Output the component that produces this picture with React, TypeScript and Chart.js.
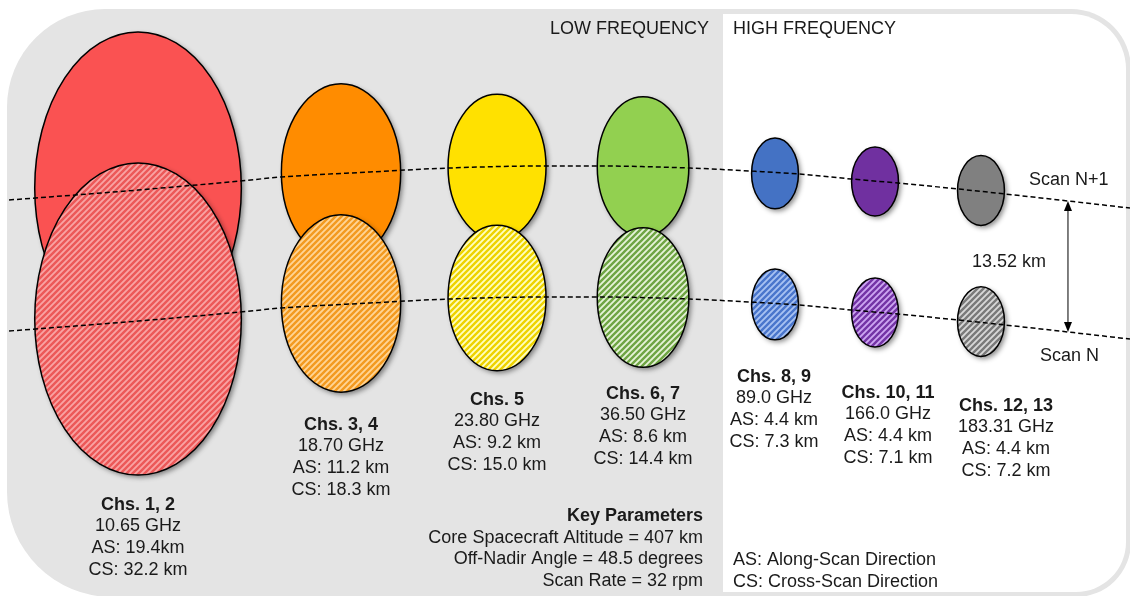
import React, { useEffect, useRef } from 'react';
import { Chart, registerables } from 'chart.js';

Chart.register(...registerables);

// ---------- data ----------
const CHANNELS = ['Chs. 1, 2', 'Chs. 3, 4', 'Chs. 5', 'Chs. 6, 7', 'Chs. 8, 9', 'Chs. 10, 11', 'Chs. 12, 13'];
const FREQS = ['10.65 GHz', '18.70 GHz', '23.80 GHz', '36.50 GHz', '89.0 GHz', '166.0 GHz', '183.31 GHz'];
const AS_KM = [19.4, 11.2, 9.2, 8.6, 4.4, 4.4, 4.4];
const CS_KM = [32.2, 18.3, 15.0, 14.4, 7.3, 7.1, 7.2];
const AS_TEXT = ['AS: 19.4km', 'AS: 11.2 km', 'AS: 9.2 km', 'AS: 8.6 km', 'AS: 4.4 km', 'AS: 4.4 km', 'AS: 4.4 km'];
const CS_TEXT = ['CS: 32.2 km', 'CS: 18.3 km', 'CS: 15.0 km', 'CS: 14.4 km', 'CS: 7.3 km', 'CS: 7.1 km', 'CS: 7.2 km'];

// footprint centres (km, along-scan / cross-scan) for scan N+1
const CENTER_X_KM = [12.96, 32.02, 46.67, 60.38, 72.77, 82.16, 92.11];
const CENTER_Y_KM = [19.4, 17.8, 17.23, 17.18, 17.9, 18.73, 19.66];
const SCAN_SEP_KM = 13.52;

// scan N+1 centre line (km)
const SCAN_X_KM = [0.85, 12.96, 22.54, 26.38, 34.74, 42.16, 51.27, 55.96, 64.79, 70.42, 75.02, 79.91, 84.32, 89.95, 94.37, 100.28, 106.1];
const SCAN_Y_KM = [20.64, 19.61, 18.68, 18.27, 17.75, 17.34, 17.13, 17.13, 17.34, 17.65, 17.96, 18.47, 18.89, 19.5, 20.02, 20.74, 21.47];
const ARROW_X_KM = 100.28;
const ARROW_Y_KM = 20.74;

const KEY_TITLE = 'Key Parameters';
const KEY_LINES = ['Core Spacecraft Altitude = 407 km', 'Off-Nadir Angle = 48.5 degrees', 'Scan Rate = 32 rpm'];
const LEGEND_LINES = ['AS: Along-Scan Direction', 'CS: Cross-Scan Direction'];

// ---------- styles / layout ----------
const SOLID = ['#FA5252', '#FF8C00', '#FFE100', '#92D050', '#4472C4', '#7030A0', '#808080'];
const HATCH_BASE = ['#F9A3A3', '#FFD596', '#FFFFC0', '#E6F3D8', '#A8C2F2', '#CDA6F2', '#D8D8D8'];
const HATCH_STRIPE = ['#EC5858', '#F39A20', '#EED300', '#6FA544', '#4A76CC', '#7434A6', '#7A7A7A'];
const LABEL_X = [138, 341, 497, 643, 774, 888, 1006];
const LABEL_Y = [503, 423, 398, 392, 375, 391, 404];
const LINE_H = 21.8;
const FONT = '"Liberation Sans", Arial, sans-serif';
const TEXT_COLOR = '#1a1a1a';

function makeHatch(ctx: CanvasRenderingContext2D, base: string, stripe: string) {
  const s = 6;
  const c = document.createElement('canvas');
  c.width = s;
  c.height = s;
  const g = c.getContext('2d')!;
  g.fillStyle = base;
  g.fillRect(0, 0, s, s);
  g.strokeStyle = stripe;
  g.lineWidth = 2.4;
  g.beginPath();
  g.moveTo(-1, s + 1);
  g.lineTo(s + 1, -1);
  g.moveTo(-1, 1);
  g.lineTo(1, -1);
  g.moveTo(s - 1, s + 1);
  g.lineTo(s + 1, s - 1);
  g.stroke();
  return ctx.createPattern(c, 'repeat')!;
}

function textAt(ctx: CanvasRenderingContext2D, t: string, x: number, cy: number, align: CanvasTextAlign, bold = false) {
  ctx.font = `${bold ? 'bold ' : ''}18px ${FONT}`;
  ctx.textAlign = align;
  ctx.textBaseline = 'alphabetic';
  ctx.fillStyle = TEXT_COLOR;
  ctx.fillText(t, x, cy + 6.5);
}

const diagramPlugin = {
  id: 'footprintDiagram',
  beforeDraw(chart: any) {
    const ctx: CanvasRenderingContext2D = chart.ctx;
    ctx.save();
    const outer = new Path2D();
    (outer as any).roundRect(7, 9, 1124, 588, [98, 60, 55, 105]);
    ctx.fillStyle = '#E4E4E4';
    ctx.fill(outer);
    const inner = new Path2D();
    (inner as any).roundRect(12, 14, 1114, 578, [93, 55, 50, 100]);
    ctx.clip(inner);
    ctx.fillStyle = '#FFFFFF';
    ctx.fillRect(723, 0, 500, 620);
    ctx.restore();
  },
  beforeDatasetsDraw(chart: any) {
    const ctx: CanvasRenderingContext2D = chart.ctx;
    const xs = chart.scales.x;
    const ys = chart.scales.y;
    const drawSet = (dsIndex: number, hatched: boolean) => {
      const meta = chart.getDatasetMeta(dsIndex);
      meta.data.forEach((pt: any, i: number) => {
        const cx = pt.x;
        const cy = pt.y;
        const rx = Math.abs(xs.getPixelForValue(CENTER_X_KM[i] + AS_KM[i] / 2) - xs.getPixelForValue(CENTER_X_KM[i] - AS_KM[i] / 2)) / 2;
        const ry = Math.abs(ys.getPixelForValue(CS_KM[i] / 2) - ys.getPixelForValue(-CS_KM[i] / 2)) / 2;
        ctx.save();
        ctx.beginPath();
        ctx.ellipse(cx, cy, rx, ry, 0, 0, Math.PI * 2);
        ctx.shadowColor = 'rgba(0,0,0,0.45)';
        ctx.shadowBlur = 5;
        ctx.shadowOffsetX = 2.5;
        ctx.shadowOffsetY = 2.5;
        ctx.fillStyle = hatched ? makeHatch(ctx, HATCH_BASE[i], HATCH_STRIPE[i]) : SOLID[i];
        ctx.fill();
        ctx.shadowColor = 'transparent';
        ctx.lineWidth = 1.5;
        ctx.strokeStyle = '#000';
        ctx.stroke();
        ctx.restore();
      });
    };
    drawSet(2, false);
    drawSet(3, true);
  },
  afterDatasetsDraw(chart: any) {
    const ctx: CanvasRenderingContext2D = chart.ctx;
    const xs = chart.scales.x;
    const ys = chart.scales.y;
    // arrow between scans
    const ax = xs.getPixelForValue(ARROW_X_KM);
    const top = ys.getPixelForValue(ARROW_Y_KM);
    const bot = ys.getPixelForValue(ARROW_Y_KM + SCAN_SEP_KM);
    ctx.save();
    ctx.strokeStyle = '#000';
    ctx.fillStyle = '#000';
    ctx.lineWidth = 1;
    ctx.beginPath();
    ctx.moveTo(ax, top + 8);
    ctx.lineTo(ax, bot - 8);
    ctx.stroke();
    ctx.beginPath();
    ctx.moveTo(ax, top);
    ctx.lineTo(ax - 4, top + 10);
    ctx.lineTo(ax + 4, top + 10);
    ctx.closePath();
    ctx.fill();
    ctx.beginPath();
    ctx.moveTo(ax, bot);
    ctx.lineTo(ax - 4, bot - 10);
    ctx.lineTo(ax + 4, bot - 10);
    ctx.closePath();
    ctx.fill();
    ctx.restore();

    ctx.save();
    textAt(ctx, 'LOW FREQUENCY', 709, 27, 'right');
    textAt(ctx, 'HIGH FREQUENCY', 733, 27, 'left');
    textAt(ctx, 'Scan N+1', 1029, 178, 'left');
    textAt(ctx, '13.52 km', 972, 260, 'left');
    textAt(ctx, 'Scan N', 1040, 354, 'left');
    CHANNELS.forEach((c, i) => {
      const x = LABEL_X[i];
      const y = LABEL_Y[i];
      textAt(ctx, c, x, y, 'center', true);
      textAt(ctx, FREQS[i], x, y + LINE_H, 'center');
      textAt(ctx, AS_TEXT[i], x, y + LINE_H * 2, 'center');
      textAt(ctx, CS_TEXT[i], x, y + LINE_H * 3, 'center');
    });
    textAt(ctx, KEY_TITLE, 703, 514, 'right', true);
    KEY_LINES.forEach((t, i) => textAt(ctx, t, 703, 536 + i * 21.7, 'right'));
    LEGEND_LINES.forEach((t, i) => textAt(ctx, t, 733, 558 + i * 22, 'left'));
    ctx.restore();
  },
};

export default function App() {
  const ref = useRef<HTMLCanvasElement | null>(null);
  useEffect(() => {
    if (!ref.current) return;
    const scanN1 = SCAN_X_KM.map((x, i) => ({ x, y: SCAN_Y_KM[i] }));
    const scanN = SCAN_X_KM.map((x, i) => ({ x, y: SCAN_Y_KM[i] + SCAN_SEP_KM }));
    const upper = CENTER_X_KM.map((x, i) => ({ x, y: CENTER_Y_KM[i] }));
    const lower = CENTER_X_KM.map((x, i) => ({ x, y: CENTER_Y_KM[i] + SCAN_SEP_KM }));
    const lineStyle = {
      showLine: true,
      borderColor: '#000',
      borderWidth: 1.5,
      borderDash: [5, 3],
      pointRadius: 0,
      cubicInterpolationMode: 'monotone' as const,
      fill: false,
    };
    const chart = new Chart(ref.current, {
      type: 'scatter',
      data: {
        datasets: [
          { label: 'Scan N+1', data: scanN1, ...lineStyle },
          { label: 'Scan N', data: scanN, ...lineStyle },
          { label: 'Footprints N+1', data: upper, pointRadius: 0, showLine: false },
          { label: 'Footprints N', data: lower, pointRadius: 0, showLine: false },
        ],
      },
      options: {
        responsive: false,
        animation: false,
        layout: { padding: 0 },
        events: [],
        plugins: { legend: { display: false }, tooltip: { enabled: false } },
        scales: {
          x: { type: 'linear', min: 0, max: 1130 / 10.65, display: false },
          y: { type: 'linear', min: 0, max: 596 / 9.69, reverse: true, display: false },
        },
      },
      plugins: [diagramPlugin],
    });
    return () => chart.destroy();
  }, []);
  return (
    <div style={{ position: 'fixed', left: 0, top: 0, width: 1130, height: 596, background: '#fff' }}>
      <canvas ref={ref} width={1130} height={596} style={{ display: 'block' }} />
    </div>
  );
}
